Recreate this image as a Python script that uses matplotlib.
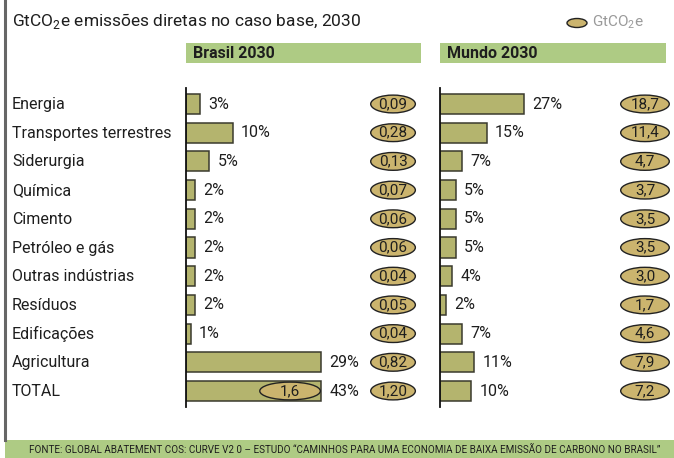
import matplotlib
matplotlib.use("Agg")
import matplotlib.pyplot as plt
from matplotlib.patches import Ellipse, Rectangle
from matplotlib.transforms import blended_transform_factory

plt.rcParams["font.family"] = ["Roboto", "DejaVu Sans"]
plt.rcParams["mathtext.fontset"] = "custom"
plt.rcParams["mathtext.rm"] = "Roboto"

# data
sectors = ["Energia", "Transportes terrestres", "Siderurgia", "Química", "Cimento",
           "Petróleo e gás", "Outras indústrias", "Resíduos", "Edificações",
           "Agricultura", "TOTAL"]
brasil_pct = [3, 10, 5, 2, 2, 2, 2, 2, 1, 29, 43]
brasil_gt = ["0,09", "0,28", "0,13", "0,07", "0,06", "0,06", "0,04", "0,05", "0,04", "0,82", "1,20"]
brasil_total_gt = "1,6"
mundo_pct = [27, 15, 7, 5, 5, 5, 4, 2, 7, 11, 10]
mundo_gt = ["18,7", "11,4", "4,7", "3,7", "3,5", "3,5", "3,0", "1,7", "4,6", "7,9", "7,2"]

W, H = 674, 458
BAR = "#b4b46e"
PILL = "#cbb46e"
GREEN = "#aecb84"
DARK = "#1e1e1e"


def fx(x):
    return x / W


def fy(y):
    return 1 - y / H


fig = plt.figure(figsize=(W / 100, H / 100), dpi=100)
fig.patch.set_facecolor("white")

# frame line on the left and footer band
fig.add_artist(plt.Line2D([fx(5), fx(5)], [fy(0), fy(440)], color="#666666", lw=2.2))
fig.add_artist(Rectangle((fx(5), fy(458)), fx(669), 18 / H, color=GREEN, lw=0))
fig.text(fx(345), fy(450),
         "FONTE: GLOBAL ABATEMENT COS: CURVE V2 0 \u2013 ESTUDO \u201cCAMINHOS PARA UMA ECONOMIA "
         "DE BAIXA EMISSÃO DE CARBONO NO BRASIL\u201d",
         ha="center", va="center", fontsize=7.1, color=DARK)

# title and legend
fig.text(fx(12), fy(21), r"GtCO$_\mathregular{2}$e emissões diretas no caso base, 2030",
         ha="left", va="center", fontsize=12.5, color=DARK)
fig.add_artist(Ellipse((fx(577), fy(23)), 20 / W, 9 / H, facecolor=PILL,
                       edgecolor="#222222", lw=1, transform=fig.transFigure))
fig.text(fx(592), fy(22), r"GtCO$_\mathregular{2}$e", ha="left", va="center",
         fontsize=11, color="#9a9a9a")

# section headers
for x0, x1, label in [(186, 421, "Brasil 2030"), (440, 666, "Mundo 2030")]:
    fig.add_artist(Rectangle((fx(x0), fy(63)), fx(x1 - x0), 20 / H, color=GREEN, lw=0))
    fig.text(fx(x0 + 7), fy(53), label, ha="left", va="center", fontsize=11.5,
             fontweight="bold", color=DARK)

# row labels
pitch = 28.7
top = 104 - 0.55 * pitch
bottom = 104 + 10.55 * pitch
for i, s in enumerate(sectors):
    fig.text(fx(12), fy(104.5 + i * pitch), s, ha="left", va="center", fontsize=11.5, color=DARK)


def panel(x0, x1, px_per_pct, pct, gt, pill_x, pill_w, cap=None):
    ax = fig.add_axes([fx(x0), fy(bottom), fx(x1 - x0), (bottom - top) / H])
    ax.set_xlim(0, (x1 - x0) / px_per_pct)
    ax.set_ylim(len(sectors) - 0.45, -0.55)
    for side in ["top", "right", "bottom"]:
        ax.spines[side].set_visible(False)
    ax.spines["left"].set_color("#111111")
    ax.spines["left"].set_linewidth(1.3)
    ax.set_xticks([])
    ax.set_yticks([])
    ax.patch.set_alpha(0)

    lengths = [min(v, cap) if cap else v for v in pct]
    ax.barh(range(len(pct)), lengths, height=0.7, color=BAR, edgecolor="#3a3a2e", lw=1.1)
    for i, (ln, v) in enumerate(zip(lengths, pct)):
        ax.annotate(f"{v}%", (ln, i), xytext=(6, 0), textcoords="offset points",
                    ha="left", va="center", fontsize=11.5, color=DARK)

    tr = blended_transform_factory(ax.transAxes, ax.transData)
    for i, g in enumerate(gt):
        ax.add_patch(Ellipse((pill_x, i), pill_w, 0.62, facecolor=PILL, edgecolor="#222222",
                             lw=1, transform=tr, clip_on=False))
        ax.text(pill_x, i, g, transform=tr, ha="center", va="center", fontsize=11, color=DARK)
    return ax, lengths


ax_b, len_b = panel(186, 421, 4.66, brasil_pct, brasil_gt, 0.881, 0.19, cap=29)
ax_m, _ = panel(440, 666, 3.1, mundo_pct, mundo_gt, 0.907, 0.215)

# pill inside the Brasil TOTAL bar
last = len(sectors) - 1
ax_b.add_patch(Ellipse((len_b[last] * 0.77, last), 13, 0.62, facecolor=PILL,
                       edgecolor="#222222", lw=1))
ax_b.text(len_b[last] * 0.77, last, brasil_total_gt, ha="center", va="center",
          fontsize=11, color=DARK)

fig.savefig("out.png", dpi=100)
